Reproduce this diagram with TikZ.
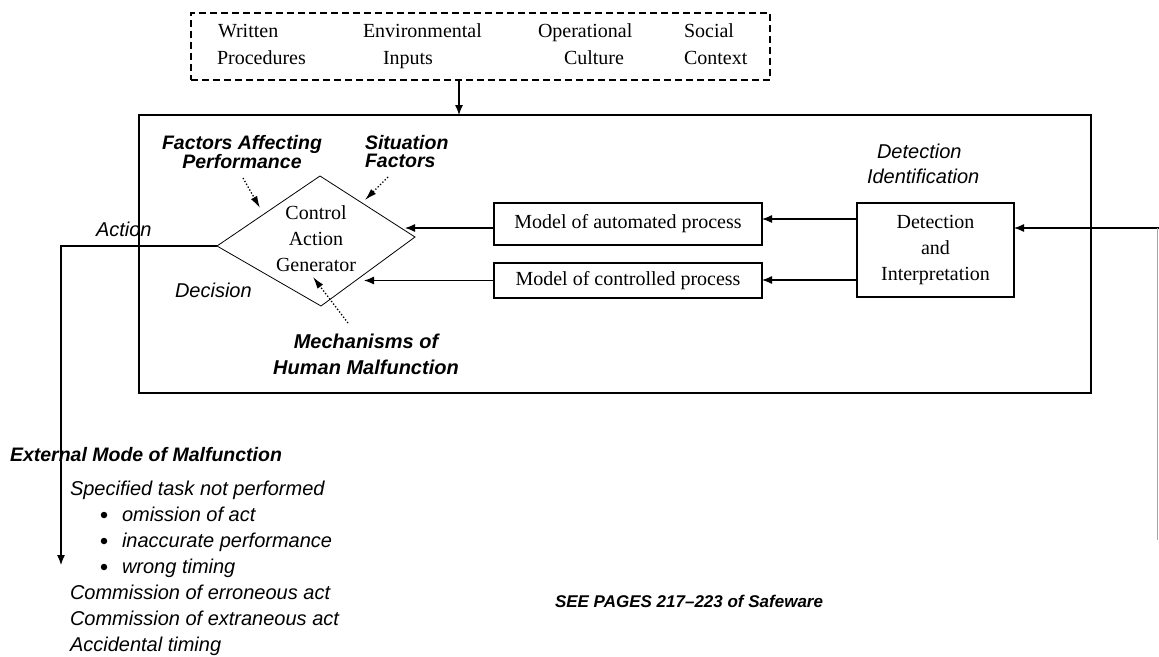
\documentclass[tikz,border=0pt]{standalone}
\usepackage{fontspec}
\setmainfont{Liberation Serif}
\setsansfont{Liberation Sans}
\usetikzlibrary{arrows.meta}

\begin{document}
\begin{tikzpicture}[x=1pt,y=-1pt,
  every node/.style={inner sep=0pt,outer sep=0pt},
  box/.style={draw,line width=1.2pt},
  serif/.style={font=\rmfamily\fontsize{20}{26}\selectfont},
  lab/.style={font=\sffamily\itshape\fontsize{20}{26}\selectfont},
  blab/.style={font=\sffamily\bfseries\itshape\fontsize{19.5}{18}\selectfont},
  arr/.style={-{Latex[length=10pt,width=8pt]},line width=1.2pt},
  darr/.style={-{Latex[length=12pt,width=7pt]},line width=1.3pt,dotted},
  bullet/.style={circle,fill,minimum size=6.5pt}
]
\useasboundingbox (0,0) rectangle (1159,656);

% context box and the arrow into the operator box
\node[draw,dashed,line width=1.1pt,dash pattern=on 7pt off 4pt,
      minimum width=579pt,minimum height=67pt] (ctx) at (480.5,46.5) {};
\node[serif,anchor=base west] (t1a) at (218,37) {Written};
\node[serif,anchor=base west] (t1b) at (217,64) {Procedures};
\node[serif,anchor=base west] (t2a) at (363,37) {Environmental};
\node[serif,anchor=base west] (t2b) at (383,64) {Inputs};
\node[serif,anchor=base west] (t3a) at (538,37) {Operational};
\node[serif,anchor=base west] (t3b) at (564,64) {Culture};
\node[serif,anchor=base west] (t4a) at (684,37) {Social};
\node[serif,anchor=base west] (t4b) at (684,64) {Context};

\node[box,minimum width=952pt,minimum height=278pt] (frame) at (615,254) {};
\coordinate (cx) at (459,0);
\draw[arr] (ctx.south -| cx) -- (frame.north -| cx);

% control action generator
\coordinate (dL) at (217,246);
\coordinate (dT) at (320,176);
\coordinate (dR) at (415,237);
\coordinate (dB) at (321,306);
\draw[line width=0.8pt] (dL) -- (dT) -- (dR) -- (dB) -- cycle;
\node[serif,align=center] (cag) at (316,239) {Control\\Action\\Generator};

% process models and detection
\node[box,serif,minimum width=268pt,minimum height=42pt] (mauto) at (628,224) {Model of automated process};
\node[box,serif,minimum width=268pt,minimum height=35pt] (mctrl) at (628,280.5) {Model of controlled process};
\node[box,serif,align=center,minimum width=157pt,minimum height=94pt] (det) at (935.5,250) {Detection\\and\\Interpretation};

\draw[arr] ([yshift=31pt]det.west) -- ([yshift=31pt]det.west -| mauto.east);
\draw[arr] ([yshift=-30pt]det.west) -- ([yshift=-30pt]det.west -| mctrl.east);
\coordinate (inp) at (1159,228);
\draw[arr] (inp) -- (inp -| det.east);
\coordinate (rv1) at (1157.5,228);
\coordinate (rv2) at (1157.5,540);
\draw[black!35,line width=0.6pt] (rv1) -- (rv2);

\coordinate (tipA) at (405,228);
\coordinate (tipC) at (364,280.5);
\draw[arr] ([yshift=-4pt]mauto.west) -- (tipA);
\draw[arr] (mctrl.west) -- (tipC);

% action output
\coordinate (actEnd) at (61,565);
\draw[arr] (dL) -| (actEnd);

% labels
\node[lab,anchor=base west] (lAct) at (96,236) {Action};
\node[lab,anchor=base west] (lDec) at (175,297) {Decision};
\node[lab,anchor=base west] (lDet) at (877,158) {Detection};
\node[lab,anchor=base west] (lIde) at (867,183) {Identification};

\node[blab,align=center] (fap) at (242,152) {Factors Affecting\\Performance};
\node[blab,align=left,anchor=west] (sit) at (365,152) {Situation\\Factors};
\node[blab,font=\sffamily\bfseries\itshape\fontsize{20}{26}\selectfont,align=center] (mech) at (366,354) {Mechanisms of\\Human Malfunction};

\coordinate (fapS) at (243,178);
\coordinate (fapT) at (260,208);
\coordinate (sitS) at (388,177);
\coordinate (sitT) at (365,200);
\coordinate (mechS) at (348,323);
\coordinate (mechT) at (313,277);
\draw[darr] (fapS) -- (fapT);
\draw[darr] (sitS) -- (sitT);
\draw[darr] (mechS) -- (mechT);

% external modes of malfunction
\node[blab,anchor=base west] (ext) at (10,461) {External Mode of Malfunction};
\node[lab,anchor=base west] (m1) at (70,495) {Specified task not performed};
\node[bullet] (b1) at (104,515) {};
\node[bullet] (b2) at (104,541) {};
\node[bullet] (b3) at (104,567) {};
\node[lab,anchor=base west] (m2) at (122,521) {omission of act};
\node[lab,anchor=base west] (m3) at (122,547) {inaccurate performance};
\node[lab,anchor=base west] (m4) at (122,573) {wrong timing};
\node[lab,anchor=base west] (m5) at (70,599) {Commission of erroneous act};
\node[lab,anchor=base west] (m6) at (70,625) {Commission of extraneous act};
\node[lab,anchor=base west] (m7) at (70,651) {Accidental timing};

\node[font=\sffamily\bfseries\itshape\fontsize{17}{20}\selectfont,anchor=base west] (see) at (555,607) {SEE PAGES 217–223 of Safeware};
\end{tikzpicture}
\end{document}
